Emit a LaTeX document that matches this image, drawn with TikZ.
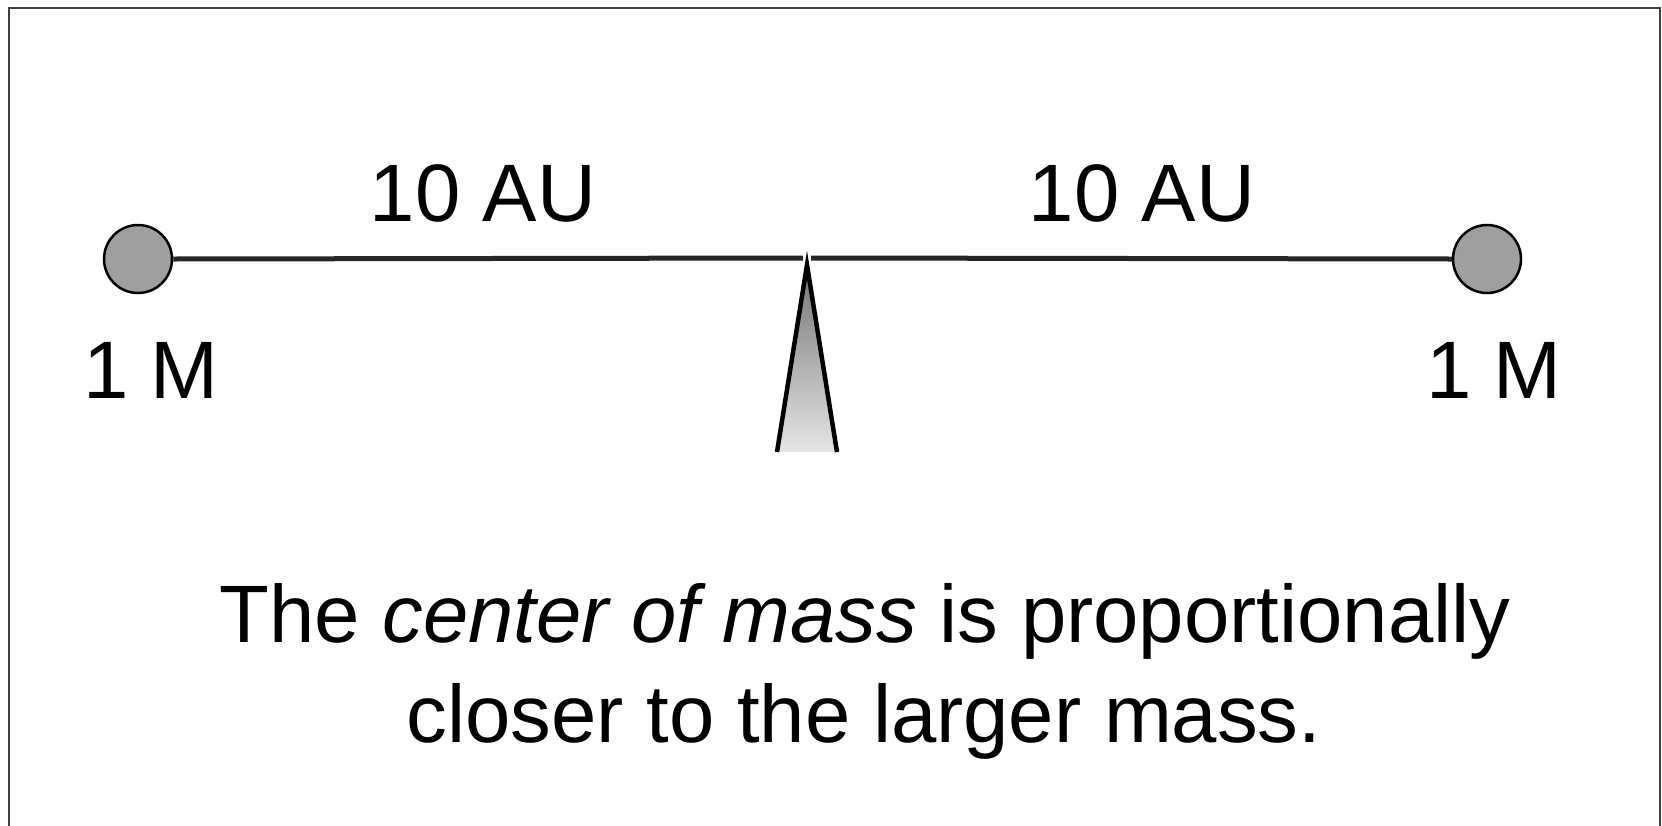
\documentclass[tikz,border=0pt]{standalone}
\usepackage{fontspec}
\setmainfont{Liberation Sans}
\begin{document}
\begin{tikzpicture}[x=1pt,y=-1pt,
  lbl/.style={anchor=base,inner sep=0pt,font=\fontsize{81.5}{100}\selectfont},
  mass/.style={circle,draw=black,line width=2.5pt,fill=gray!75,minimum size=68pt,inner sep=0pt},
  beam/.style={line width=5pt,draw=black!85},
  frame/.style={line width=2.5pt,draw=black!75}]
\useasboundingbox (0,0) rectangle (1662,825);
\clip (0,0) rectangle (1662,825);
\draw[frame] (9,840) -- (9,8) -- (1660,8) -- (1660,840);
\node[mass] (m1) at (138,259) {};
\node[mass] (m2) at (1487,259) {};
\coordinate (gl) at (803,258);
\coordinate (gr) at (811,258);
\draw[beam] (m1.east) -- (gl);
\draw[beam] (gr) -- (m2.west);
\coordinate (apex) at (807,265);
\coordinate (bl) at (777,452);
\coordinate (br) at (837,452);
\shade[top color=gray!90!black,bottom color=gray!20] (apex) -- (bl) -- (br) -- cycle;
\draw[line width=4.5pt,line join=miter] (bl) -- (apex) -- (br);
\node[lbl] (d1) at (483,221) {10 AU};
\node[lbl] (d2) at (1142,221) {10 AU};
\node[lbl] (l1) at (151,398) {1 M};
\node[lbl] (l2) at (1494,398) {1 M};
\node[lbl] (c1) at (865,642) {The \textit{center of mass} is proportionally};
\node[lbl] (c2) at (864,742) {closer to the larger mass.};
\end{tikzpicture}
\end{document}
